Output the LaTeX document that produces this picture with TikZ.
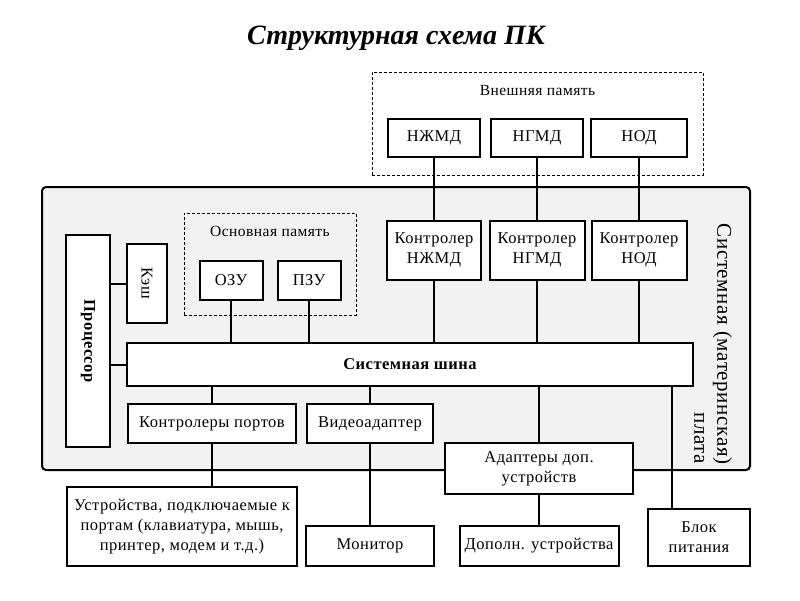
\documentclass[tikz,border=0pt]{standalone}
\usepackage{fontspec}
\setmainfont{Liberation Serif}
\newfontfamily\spaced[LetterSpace=3]{Liberation Serif}
\usetikzlibrary{positioning}
\tikzset {
  % plain block
  block/.style = {draw, line width=2pt, fill=white, align=center, inner sep=1pt,
    font=\spaced\fontsize{16.5}{20}\selectfont},
  % dashed group frames
  group/.style = {draw, dash pattern=on 3pt off 2pt, thin},
  grouplabel/.style = {font=\spaced\fontsize{15.5}{18}\selectfont},
  % connectors
  wire/.style = {line width=2pt},
  % motherboard
  board/.style = {draw, line width=2pt, fill=black!5, rounded corners=4pt},
}
\begin{document}
\begin{tikzpicture}[x=1pt, y=-1pt]
  \useasboundingbox (0,0) rectangle (800,600);

  \node[font=\fontsize{28}{32}\selectfont\bfseries\itshape] (title) at (396,38) {Структурная схема ПК};

  % motherboard
  \draw[board] (42,187) rectangle (750,470);
  \node[rotate=-90, align=right, font=\spaced\fontsize{21}{23}\selectfont] (boardname) at (713,344)
    {Системная (материнская)\\плата};

  % external memory
  \node[group, minimum width=331, minimum height=103] (extmem) at (537.5,123.5) {};
  \node[grouplabel, below=10pt of extmem.north] (extlabel) {Внешняя память};
  \node[block, minimum width=92, minimum height=38] (hdd) at (434,138) {НЖМД};
  \node[block, minimum width=92, minimum height=38] (fdd) at (537,138) {НГМД};
  \node[block, minimum width=96, minimum height=38] (cd) at (639,138) {НОД};

  % controllers
  \node[block, minimum width=94, minimum height=59] (ctlhdd) at (434,250) {Контролер\\НЖМД};
  \node[block, minimum width=95, minimum height=59] (ctlfdd) at (537,250) {Контролер\\НГМД};
  \node[block, minimum width=95, minimum height=59] (ctlcd) at (639,250) {Контролер\\НОД};

  % main memory
  \node[group, minimum width=172, minimum height=102] (mainmem) at (270,264) {};
  \node[grouplabel, below=10pt of mainmem.north] (mainlabel) {Основная память};
  \node[block, minimum width=63, minimum height=39] (ram) at (231,280.5) {ОЗУ};
  \node[block, minimum width=63, minimum height=39] (rom) at (309,280.5) {ПЗУ};

  % processor and cache
  \node[block, minimum width=40, minimum height=79] (cache) at (147,283.5) {\rotatebox{-90}{Кэш}};
  \node[block, minimum width=44, minimum height=212] (cpu) at (88,341) {\rotatebox{-90}{\bfseries Процессор}};

  % system bus
  \node[block, minimum width=566, minimum height=43] (bus) at (410,364.5) {\bfseries Системная шина};

  % lower blocks
  \node[block, minimum width=168, minimum height=39] (ports) at (212,423.5) {Контролеры портов};
  \node[block, minimum width=126, minimum height=39] (video) at (370,423.5) {Видеоадаптер};
  \node[block, minimum width=188, minimum height=51] (adapt) at (539,468.5) {Адаптеры доп.\\устройств};

  % outside devices
  \node[block, minimum width=230, minimum height=79] (devices) at (182,526.5)
    {Устройства, подключаемые к\\портам (клавиатура, мышь,\\принтер, модем и т.д.)};
  \node[block, minimum width=128, minimum height=40] (monitor) at (370,546) {Монитор};
  \node[block, minimum width=159, minimum height=40] (extra) at (539,546) {Дополн. устройства};
  \node[block, minimum width=102, minimum height=57] (power) at (699,537.5) {Блок\\питания};

  \draw[wire] (hdd) -- (ctlhdd);
  \draw[wire] (fdd) -- (ctlfdd);
  \draw[wire] (cd) -- (ctlcd);
  \draw[wire] (ctlhdd) -- (ctlhdd |- bus.north);
  \draw[wire] (ctlfdd) -- (ctlfdd |- bus.north);
  \draw[wire] (ctlcd) -- (ctlcd |- bus.north);
  \draw[wire] (ram) -- (ram |- bus.north);
  \draw[wire] (rom) -- (rom |- bus.north);
  \draw[wire] (cache.west) -- (cache.west -| cpu.east);
  \draw[wire] (bus.west) -- (bus.west -| cpu.east);
  \draw[wire] (ports) -- (ports |- bus.south);
  \draw[wire] (ports.south) -- (ports.south |- devices.north);
  \draw[wire] (video) -- (video |- bus.south);
  \draw[wire] (video) -- (monitor);
  \draw[wire] (adapt) -- (adapt |- bus.south);
  \draw[wire] (adapt) -- (extra);
  \coordinate (pwrin) at ([xshift=-27pt]power.north);
  \draw[wire] (pwrin) -- (pwrin |- bus.south);
\end{tikzpicture}
\end{document}
